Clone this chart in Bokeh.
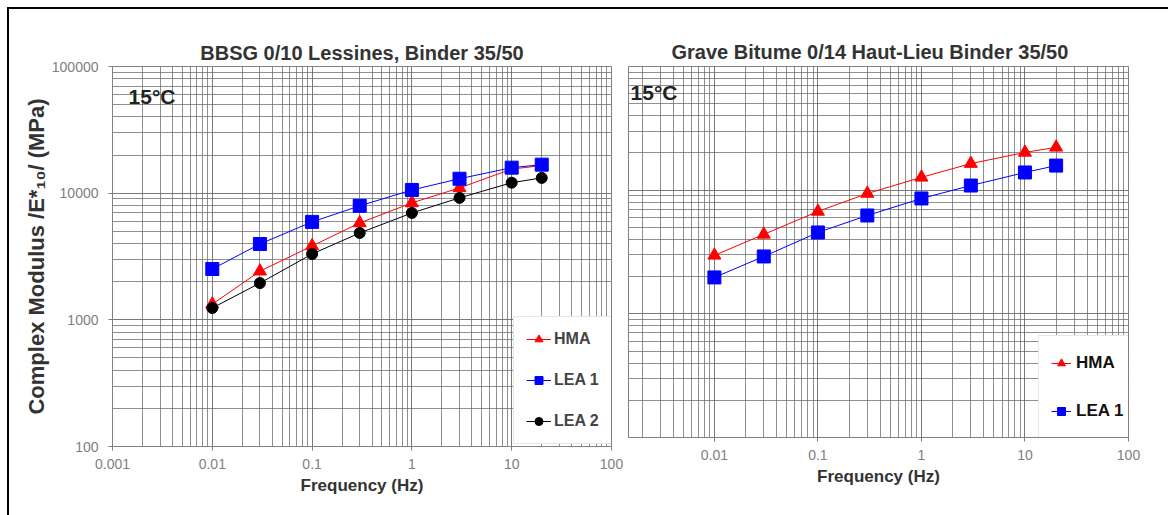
from bokeh.plotting import figure
from bokeh.layouts import row
from bokeh.models import FixedTicker, Legend, LegendItem, Label
from bokeh.embed import file_html
from bokeh.resources import INLINE

# ---------------- data ----------------
freq = [0.01, 0.03, 0.1, 0.3, 1, 3, 10, 20]

left_title = "BBSG 0/10 Lessines, Binder 35/50"
left_hma = [1330, 2420, 3830, 5820, 8380, 11000, 15500, 16500]
left_lea1 = [2520, 3970, 5930, 7940, 10600, 13000, 15900, 16800]
left_lea2 = [1240, 1950, 3310, 4850, 6980, 9180, 12100, 13200]

right_title = "Grave Bitume 0/14 Haut-Lieu Binder 35/50"
right_hma = [2970, 4390, 6730, 9400, 12700, 16400, 20200, 22200]
right_lea1 = [1970, 2910, 4550, 6240, 8570, 10900, 13900, 15800]

x_ticks = [0.001, 0.01, 0.1, 1, 10, 100]
x_tick_labels = ["0.001", "0.01", "0.1", "1", "10", "100"]
y_ticks = [100, 1000, 10000, 100000]
y_tick_labels = ["100", "1000", "10000", "100000"]

temp_label = "15°C"
x_label = "Frequency (Hz)"
y_label = "Complex Modulus /E*\u2081\u2080/ (MPa)"

FONT = "Liberation Sans"
GRID = "#6a6a6a"
TICK_GREY = "#808080"

minor_x = [m * 10.0 ** k for k in range(-3, 2) for m in range(2, 10)]
minor_y = [m * 10.0 ** k for k in range(2, 5) for m in range(2, 10)]


def style(p, show_y=True):
    xt = FixedTicker(ticks=x_ticks, minor_ticks=minor_x)
    yt = FixedTicker(ticks=y_ticks, minor_ticks=minor_y)
    p.xaxis.ticker = xt
    p.yaxis.ticker = yt
    p.xaxis.major_label_overrides = dict(zip(x_ticks, x_tick_labels))
    p.yaxis.major_label_overrides = dict(zip(y_ticks, y_tick_labels))
    for g, t in ((p.xgrid, xt), (p.ygrid, yt)):
        g.ticker = t
        g.grid_line_color = GRID
        g.grid_line_alpha = 0.9
        g.grid_line_width = 1
        g.minor_grid_line_color = GRID
        g.minor_grid_line_alpha = 0.75
        g.minor_grid_line_width = 1
    for ax in (p.xaxis, p.yaxis):
        ax.major_label_text_font = FONT
        ax.major_label_text_font_size = "14px"
        ax.major_label_text_color = TICK_GREY
        ax.axis_line_color = "#808080"
        ax.major_tick_line_color = "#808080"
        ax.major_tick_in = 0
        ax.major_tick_out = 4
        ax.minor_tick_line_color = None
        ax.axis_label_text_font = FONT
        ax.axis_label_text_font_style = "bold"
        ax.axis_label_text_color = "#333333"
    p.xaxis.axis_label = x_label
    p.xaxis.axis_label_text_font_size = "17px"
    p.xaxis.major_label_standoff = 8
    p.xaxis.axis_label_standoff = 4
    if show_y:
        p.yaxis.axis_label = y_label
        p.yaxis.axis_label_text_font_size = "22px"
        p.yaxis.major_label_standoff = 10
        p.yaxis.axis_label_standoff = 0
    else:
        p.yaxis.visible = False
    p.outline_line_color = "#808080"
    p.background_fill_color = "white"
    p.border_fill_color = "white"
    p.title.text_font = FONT
    p.title.text_font_size = "20px"
    p.title.text_font_style = "bold"
    p.title.text_color = "#333333"


def add_series(p, ys, label, color, marker, size):
    ln = p.line(freq, ys, line_color=color, line_width=1)
    sc = p.scatter(freq, ys, marker=marker, size=size, fill_color=color, line_color=color)
    return LegendItem(label=label, renderers=[ln, sc])


# ---------------- left panel ----------------
p1 = figure(x_axis_type="log", y_axis_type="log", x_range=(0.001, 100), y_range=(100, 100000),
            frame_width=499, frame_height=380, min_border_left=103, min_border_right=13,
            min_border_top=53, min_border_bottom=73, output_backend="svg",
            toolbar_location=None, title=left_title)
style(p1, True)
p1.title.align = "center"
p1.title.standoff = 6
items1 = [
    add_series(p1, left_hma, "HMA", "#ff0000", "triangle", 13),
    add_series(p1, left_lea1, "LEA 1", "#0000ff", "square", 13),
    add_series(p1, left_lea2, "LEA 2", "#000000", "circle", 11),
]
p1.add_layout(Label(x=0.00145, y=58000, text=temp_label, text_font=FONT, text_font_size="21px",
                    text_font_style="bold", text_color="#222222", text_baseline="middle"))
leg1 = Legend(items=items1, location=(401, 2), label_text_font=FONT, label_text_font_size="16px",
              label_text_font_style="bold", label_text_color="#444444", glyph_width=25,
              glyph_height=20, label_height=20, label_standoff=3, spacing=21, padding=12,
              margin=0, border_line_color="#d0d0d0", background_fill_color="white",
              background_fill_alpha=1)
p1.add_layout(leg1)

# ---------------- right panel ----------------
p2 = figure(x_axis_type="log", y_axis_type="log", x_range=(0.00148, 100), y_range=(100, 100000),
            frame_width=500, frame_height=371, min_border_left=4, min_border_right=40,
            min_border_top=57, min_border_bottom=78, output_backend="svg",
            toolbar_location=None, title=right_title)
style(p2, False)
p2.title.align = "left"
p2.title.offset = 43
p2.title.standoff = 8
items2 = [
    add_series(p2, right_hma, "HMA", "#ff0000", "triangle", 13),
    add_series(p2, right_lea1, "LEA 1", "#0000ff", "square", 13),
]
p2.add_layout(Label(x=0.00155, y=61700, text=temp_label, text_font=FONT, text_font_size="21px",
                    text_font_style="bold", text_color="#222222", text_baseline="middle"))
leg2 = Legend(items=items2, location=(410, -2), label_text_font=FONT, label_text_font_size="17px",
              label_text_font_style="bold", label_text_color="#111111", glyph_width=20,
              glyph_height=30, label_height=30, label_standoff=5, spacing=18, padding=12,
              margin=0, border_line_color="#d0d0d0", background_fill_color="white",
              background_fill_alpha=1)
p2.add_layout(leg2)

layout = row(p1, p2, spacing=0,
             styles={"border-top": "2px solid black", "border-left": "2px solid black",
                     "margin-left": "7px", "margin-top": "7px"})

open("out.html", "w").write(file_html(layout, INLINE))
